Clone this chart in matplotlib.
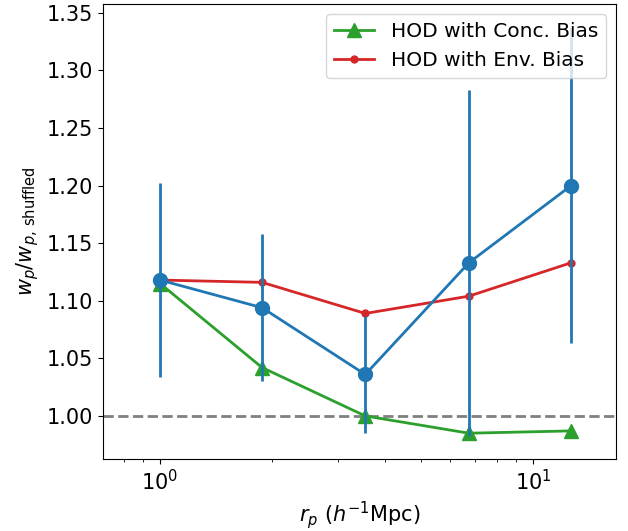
import matplotlib
matplotlib.use("Agg")
import matplotlib.pyplot as plt
import numpy as np

rp = [1.0, 1.877, 3.55, 6.73, 12.65]
ratio_blue = [1.118, 1.094, 1.036, 1.133, 1.200]
ratio_err = [0.084, 0.064, 0.051, 0.150, 0.137]
conc_bias = [1.115, 1.042, 1.000, 0.985, 0.987]
env_bias = [1.118, 1.116, 1.089, 1.104, 1.133]

fig = plt.figure(figsize=(6.28, 5.31), dpi=100)
ax = fig.add_axes([0.164, 0.1356, 0.817, 0.857])

ax.axhline(1.0, color='gray', ls='--', lw=2, zorder=1)
ax.plot(rp, conc_bias, color='#2ca02c', marker='^', ms=10, lw=2, label='HOD with Conc. Bias', zorder=2)
ax.plot(rp, env_bias, color='#d62728', marker='o', ms=5, lw=2, label='HOD with Env. Bias', zorder=2)
ax.errorbar(rp, ratio_blue, yerr=ratio_err, color='#1f77b4', marker='o', ms=10, lw=2, elinewidth=2, zorder=3)

ax.set_xscale('log')
ax.set_xlim(0.703, 16.7)
ax.set_ylim(0.9626, 1.3578)
ax.set_yticks([1.00, 1.05, 1.10, 1.15, 1.20, 1.25, 1.30, 1.35])
ax.set_yticklabels(['1.00', '1.05', '1.10', '1.15', '1.20', '1.25', '1.30', '1.35'])
ax.tick_params(axis='both', which='major', labelsize=15)
ax.set_xlabel(r'$r_p\ (h^{-1}\mathrm{Mpc})$', fontsize=15)
ax.set_ylabel(r'$w_p/w_{p,\,\mathrm{shuffled}}$', fontsize=15)
ax.legend(loc='upper right', fontsize=14.5)

fig.savefig('out.png', dpi=100)
